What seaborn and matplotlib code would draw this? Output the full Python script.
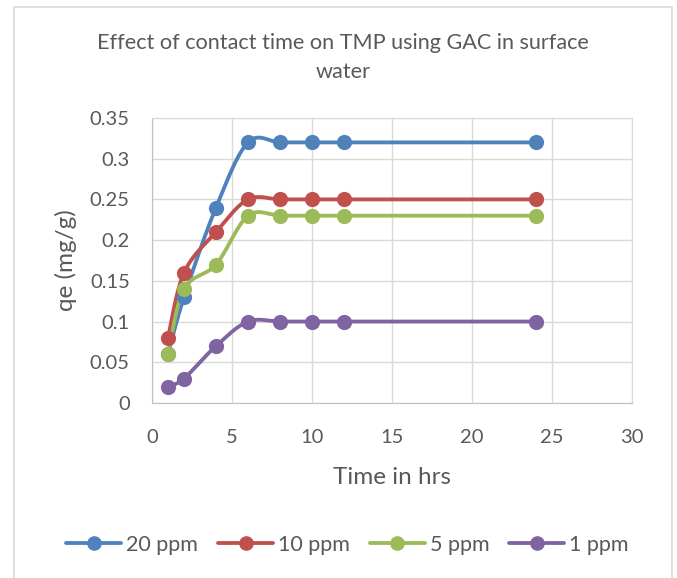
import matplotlib
matplotlib.use("Agg")
import matplotlib.pyplot as plt
import numpy as np
import pandas as pd
import seaborn as sns
from matplotlib.ticker import FuncFormatter, MultipleLocator
from matplotlib.patches import Rectangle

# data
time_hrs = [1, 2, 4, 6, 8, 10, 12, 24]
qe_20ppm = [0.06, 0.13, 0.24, 0.32, 0.32, 0.32, 0.32, 0.32]
qe_10ppm = [0.08, 0.16, 0.21, 0.25, 0.25, 0.25, 0.25, 0.25]
qe_5ppm = [0.06, 0.14, 0.17, 0.23, 0.23, 0.23, 0.23, 0.23]
qe_1ppm = [0.02, 0.03, 0.07, 0.10, 0.10, 0.10, 0.10, 0.10]
series_names = ["20 ppm", "10 ppm", "5 ppm", "1 ppm"]
colors = ["#4F81BD", "#C0504D", "#9BBB59", "#8064A2"]

df = pd.DataFrame({
    "Time": time_hrs * 4,
    "qe": qe_20ppm + qe_10ppm + qe_5ppm + qe_1ppm,
    "Series": sum([[n] * len(time_hrs) for n in series_names], []),
})


def smooth(xs, ys, n=30):
    # excel-like smoothed line (cardinal bezier through the points)
    p = np.column_stack([xs, ys]).astype(float)
    pts = np.vstack([p[0], p, p[-1]])
    out = []
    for i in range(1, len(pts) - 2):
        p0, p1, p2, p3 = pts[i - 1], pts[i], pts[i + 1], pts[i + 2]
        c1 = p1 + (p2 - p0) / 6
        c2 = p2 - (p3 - p1) / 6
        t = np.linspace(0, 1, n)[:, None]
        seg = (1 - t) ** 3 * p1 + 3 * (1 - t) ** 2 * t * c1 + 3 * (1 - t) * t ** 2 * c2 + t ** 3 * p2
        out.append(seg)
    out = np.vstack(out)
    return out[:, 0], out[:, 1]


sns.set_style("white")
plt.rcParams["font.family"] = ["Lato", "DejaVu Sans"]
txt = "#595959"

fig = plt.figure(figsize=(6.77, 5.78), dpi=100)
ax = fig.add_axes([0.2245, 0.3028, 0.709, 0.4931])

for name, c in zip(series_names, colors):
    sub = df[df["Series"] == name]
    sx, sy = smooth(sub["Time"].values, sub["qe"].values)
    ax.plot(sx, sy, color=c, lw=2.75, zorder=3, solid_capstyle="round")
    sns.scatterplot(x="Time", y="qe", data=sub, color=c, s=120, linewidth=0,
                    ax=ax, zorder=4, legend=False)
    ax.plot([], [], color=c, lw=2.75, marker="o", ms=9.5, label=name)

ax.set_xlim(0, 30)
ax.set_ylim(0, 0.35)
ax.xaxis.set_major_locator(MultipleLocator(5))
ax.yaxis.set_major_locator(MultipleLocator(0.05))
ax.yaxis.set_major_formatter(FuncFormatter(lambda v, p: f"{round(v, 2):g}"))
ax.grid(True, color="#D9D9D9", lw=1)
for s in ax.spines.values():
    s.set_color("#D9D9D9")
ax.spines["left"].set_color("#BFBFBF")
ax.spines["bottom"].set_color("#BFBFBF")
ax.tick_params(colors=txt, labelsize=14.5, length=0)
ax.tick_params(axis="x", pad=19)
ax.tick_params(axis="y", pad=16)

ax.set_xlabel("Time in hrs", fontsize=17.5, color=txt)
ax.set_ylabel("qe (mg/g)", fontsize=17.5, color=txt)
ax.xaxis.label.set_va("center")
ax.yaxis.label.set_va("center")
ax.xaxis.set_label_coords(0.5, -0.262)
ax.yaxis.set_label_coords(-0.179, 0.5)

fig.text(343 / 677, 0.9005, "Effect of contact time on TMP using GAC in surface\nwater",
         ha="center", va="center", fontsize=15.6, color=txt, linespacing=1.6)

leg = fig.legend(loc="center", bbox_to_anchor=(347.5 / 677, 1 - 545 / 578), ncol=4,
                 frameon=False, fontsize=15.5, handlelength=2.55, columnspacing=0.93,
                 handletextpad=0.23)
for t in leg.get_texts():
    t.set_color(txt)

fig.patches.append(Rectangle((14 / 677, -0.01), 658 / 677, 1.01 - 7 / 578,
                             transform=fig.transFigure, fill=False,
                             edgecolor="#D9D9D9", lw=1.2))

plt.savefig("out.png", dpi=100)
